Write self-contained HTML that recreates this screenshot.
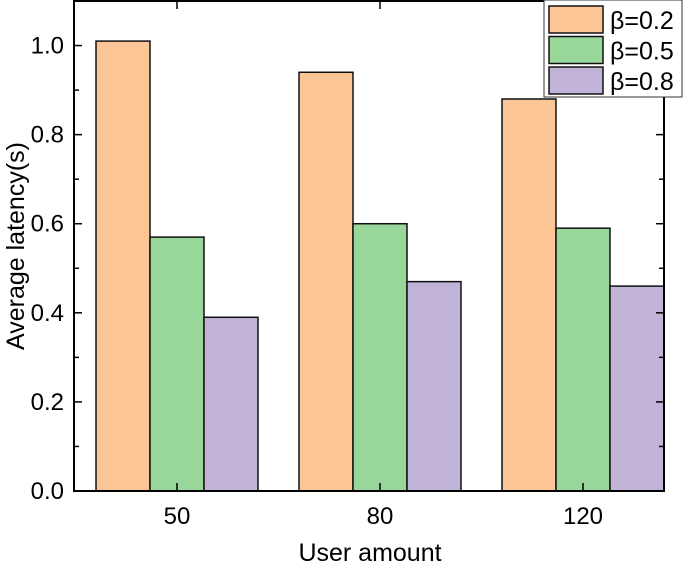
<!DOCTYPE html>
<html><head><meta charset="utf-8"><style>
body{margin:0;background:#fff}
svg{display:block;font-family:"Liberation Sans",Arial,sans-serif}
</style></head><body>
<svg id="chart" width="685" height="566" viewBox="0 0 685 566">
<g id="bars"></g>
<g id="axes"></g>
<text x="370" y="561" font-size="25" text-anchor="middle">User amount</text>
<text transform="translate(24,246) rotate(-90)" font-size="25" text-anchor="middle">Average latency(s)</text>
<g id="legend"></g>
</svg>
<script>
const categories = ["50","80","120"];
const seriesNames = ["β=0.2","β=0.5","β=0.8"];
const beta02 = [1.01, 0.94, 0.88];
const beta05 = [0.57, 0.60, 0.59];
const beta08 = [0.39, 0.47, 0.46];
const yTicks = [0.0, 0.2, 0.4, 0.6, 0.8, 1.0];
const yTickLabels = ["0.0","0.2","0.4","0.6","0.8","1.0"];

const NS="http://www.w3.org/2000/svg";
const L=74,R=664,T=1,B=491,yMax=1.1;
const colors=["#fbc596","#98d69a","#c1b2d8"];
const series=[beta02,beta05,beta08];
const y=v=>B-(B-T)*v/yMax;
const x0=177,step=203,bw=54;
const xc=i=>x0+i*step;
function mk(tag,attrs,parent){const e=document.createElementNS(NS,tag);for(const k in attrs)e.setAttribute(k,attrs[k]);parent.appendChild(e);return e;}
const bars=document.getElementById('bars');
series.forEach((s,si)=>{s.forEach((v,i)=>{
  const bx=xc(i)+(si-1)*bw-bw/2;
  const r=mk('rect',{x:bx,y:y(v),width:bw,height:B-y(v),fill:colors[si],stroke:'#111','stroke-width':1.5},bars);
  
  
});});
const ax=document.getElementById('axes');
mk('rect',{x:L,y:T,width:R-L,height:B-T,fill:'none',stroke:'#000','stroke-width':2},ax);
for(let k=0;k<=11;k++){const v=k*0.1;const yy=y(v);const len=k%2==0?8:5;
  mk('line',{x1:L,x2:L+len,y1:yy,y2:yy,stroke:'#000','stroke-width':1.5},ax);
  mk('line',{x1:R,x2:R-len,y1:yy,y2:yy,stroke:'#000','stroke-width':1.5},ax);}
yTicks.forEach((v,i)=>{const t=mk('text',{x:L-10,y:y(v)+8,'font-size':24,'text-anchor':'end'},ax);t.textContent=yTickLabels[i];
  
  });
categories.forEach((c,i)=>{
  mk('line',{x1:xc(i),x2:xc(i),y1:B,y2:B-8,stroke:'#000','stroke-width':1.5},ax);
  mk('line',{x1:xc(i),x2:xc(i),y1:T,y2:T+8,stroke:'#000','stroke-width':1.5},ax);
  const t=mk('text',{x:xc(i),y:524,'font-size':24,'text-anchor':'middle'},ax);t.textContent=c;
  
  });
const lg=document.getElementById('legend');
mk('rect',{x:544,y:0,width:138,height:97,fill:'#fff',stroke:'#333','stroke-width':1},lg);
seriesNames.forEach((n,i)=>{
  const sw=mk('rect',{x:549,y:6+i*30.5,width:54,height:27,fill:colors[i],stroke:'#111','stroke-width':1.5},lg);
  
  
  const t=mk('text',{x:610,y:29+i*30.5,'font-size':25},lg);t.textContent=n;
  
  
});
</script>
</body></html>
